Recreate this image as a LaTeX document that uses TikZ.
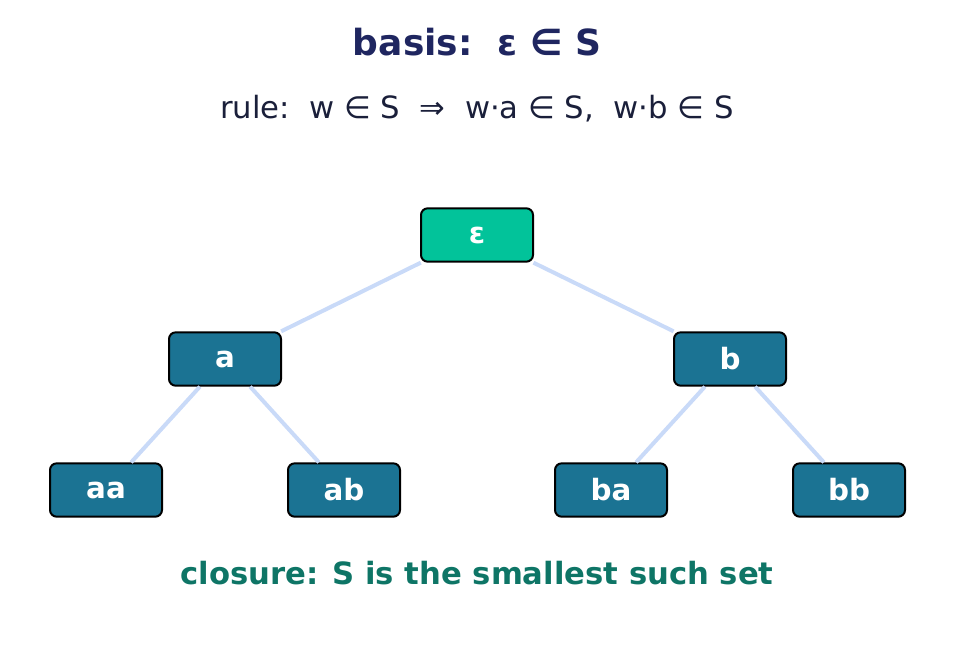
\documentclass[tikz,border=0pt]{standalone}
\usepackage{fontspec}
\setmainfont{DejaVu Sans}
\usetikzlibrary{positioning}
\definecolor{rootc}{HTML}{02C39A}
\definecolor{nodec}{HTML}{1B7393}
\definecolor{edgec}{HTML}{C9DAF8}
\definecolor{titlec}{HTML}{1F2660}
\definecolor{rulec}{HTML}{1A1F3A}
\definecolor{closc}{HTML}{0E7566}
\begin{document}
\begin{tikzpicture}[x=0.75pt, y=-0.75pt, line width=1.5pt]
   \useasboundingbox (0,0) rectangle (955,645);
   \tikzset{word/.style={draw=black, fill=nodec, rounded corners=5pt, minimum width=84pt, minimum height=40pt, text=white, font=\bfseries\fontsize{22}{24}\selectfont},
            link/.style={draw=edgec, line width=3pt}}
   \node[font=\bfseries\fontsize{27}{30}\selectfont, text=titlec] (basis) at (477,42) {basis:\ \ ε ∈ S};
   \node[font=\fontsize{23}{26}\selectfont, text=rulec] (rule) at (477,109) {rule:\ \ w ∈ S\ \ ⇒\ \ w·a ∈ S,\ \ w·b ∈ S};
   \begin{scope}[every node/.style={word}]
    \node (eps) [fill=rootc] at (477,235) {ε};
    \node (a) at (225,359) {a};
    \node (b) at (730,359) {b};
    \node (aa) at (106,490) {aa};
    \node (ab) at (344,490) {ab};
    \node (ba) at (611,490) {ba};
    \node (bb) at (849,490) {bb};
   \end{scope}
   \begin{scope}[on background layer/.style={}]
    \draw[link] (eps) -- (a);
    \draw[link] (eps) -- (b);
    \draw[link] (a) -- (aa);
    \draw[link] (a) -- (ab);
    \draw[link] (b) -- (ba);
    \draw[link] (b) -- (bb);
   \end{scope}
   \node[font=\bfseries\fontsize{23}{26}\selectfont, text=closc] (closure) at (477,573) {closure: S is the smallest such set};
\end{tikzpicture}
\end{document}
